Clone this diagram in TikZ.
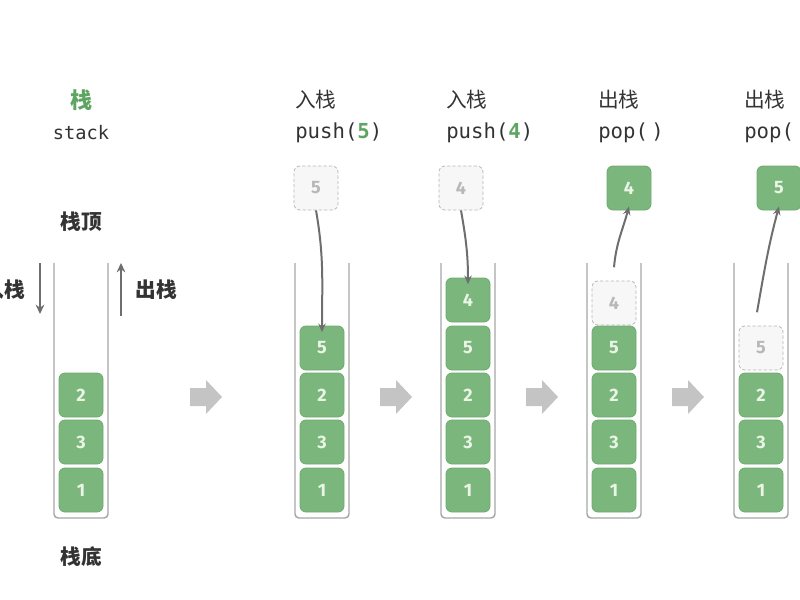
\documentclass[tikz,border=0pt]{standalone}
\usepackage{fontspec}
\newfontfamily\cjk{Noto Sans CJK SC}
\newfontfamily\digitfont{Fira Sans}
\setmonofont{DejaVu Sans Mono}
\usetikzlibrary{arrows.meta}
\definecolor{boxgreen}{HTML}{7BB77C}
\definecolor{boxedge}{HTML}{6DAA6E}
\definecolor{boxtext}{HTML}{EAF5E6}
\definecolor{ghostfill}{HTML}{F7F7F7}
\definecolor{ghostline}{HTML}{B8B8B8}
\definecolor{tubeline}{HTML}{A6A6A6}
\definecolor{arrowgray}{HTML}{6E6E6E}
\definecolor{blockgray}{HTML}{C4C4C4}
\definecolor{textdark}{HTML}{333333}
\definecolor{titlegreen}{HTML}{5EA562}
\begin{document}
\begin{tikzpicture}[x=0.75pt,y=-0.75pt,
  elem/.style={rectangle, rounded corners=4.5pt, minimum width=33pt, minimum height=33pt,
    fill=boxgreen, draw=boxedge, line width=0.6pt, text=boxtext, inner sep=0pt,
    font=\digitfont\bfseries\fontsize{13.5}{13.5}\selectfont},
  ghost/.style={elem, fill=ghostfill, draw=ghostline, dash pattern=on 2.5pt off 1.5pt, text=ghostline},
  tube/.style={draw=tubeline, line width=1.1pt, rounded corners=3pt},
  move/.style={draw=arrowgray, line width=1.5pt, -{Stealth[length=6.5pt,width=5.5pt]}},
  side/.style={draw=arrowgray, line width=1.8pt, -{Stealth[length=7pt,width=6.5pt]}},
  blockarrow/.style={fill=blockgray},
  cjkbold/.style={text=textdark, font=\cjk\bfseries\fontsize{15.5}{15.5}\selectfont},
  cjkhead/.style={text=textdark, font=\cjk\fontsize{15.5}{15.5}\selectfont, anchor=west, inner sep=0pt},
  monohead/.style={text=textdark, font=\ttfamily\fontsize{15.5}{15.5}\selectfont, anchor=west, inner sep=0pt}
  ]
\useasboundingbox (0,0) rectangle (800,600);
\clip (0,0) rectangle (800,600);

% tubes
\foreach \c/\n in {81/t1, 322/t2, 468/t3, 614/t4, 761/t5}{
  \draw[tube] (\c-27,263) -- (\c-27,518) -- (\c+27,518) -- (\c+27,263);
}

% title
\node[text=titlegreen, font=\cjk\bfseries\fontsize{16.5}{16.5}\selectfont] (title) at (81,100) {栈};
\node[text=textdark, font=\ttfamily\fontsize{14}{14}\selectfont] (stack) at (81,133) {stack};
\node[cjkbold] (top) at (81,222) {栈顶};
\node[cjkbold] (bottom) at (81,557) {栈底};
\node[cjkbold] (pushlbl) at (4,290) {入栈};
\node[cjkbold] (poplbl) at (156,290) {出栈};
\coordinate (pa) at (40,263); \coordinate (pb) at (40,314);
\coordinate (qa) at (121,316); \coordinate (qb) at (121,263);
\draw[side] (pa) -- (pb);
\draw[side] (qa) -- (qb);

% stack 1
\node[elem] (a2) at (81,395) {2};
\node[elem] (a3) at (81,442) {3};
\node[elem] (a1) at (81,490) {1};

% stack 2 : push(5)
\node[cjkhead] (h2a) at (295,100) {入栈};
\node[monohead] (h2b) at (295,133) {push(\textcolor{titlegreen}{\bfseries 5})};
\node[ghost] (g5) at (316,188) {5};
\node[elem] (b5) at (322,348) {5};
\node[elem] (b2) at (322,395) {2};
\node[elem] (b3) at (322,442) {3};
\node[elem] (b1) at (322,490) {1};
\draw[move] (g5.south) to[out=-80,in=90] ([yshift=-5]b5.north);

% stack 3 : push(4)
\node[cjkhead] (h3a) at (446,100) {入栈};
\node[monohead] (h3b) at (446,133) {push(\textcolor{titlegreen}{\bfseries 4})};
\node[ghost] (g4) at (461,188) {4};
\node[elem] (c4) at (468,300) {4};
\node[elem] (c5) at (468,348) {5};
\node[elem] (c2) at (468,395) {2};
\node[elem] (c3) at (468,442) {3};
\node[elem] (c1) at (468,490) {1};
\draw[move] (g4.south) to[out=-80,in=90] ([yshift=-5]c4.north);

% stack 4 : pop()
\node[cjkhead] (h4a) at (598,100) {出栈};
\node[monohead] (h4b) at (598,133) {pop(\,)};
\node[elem] (p4) at (629,188) {4};
\node[ghost] (d4) at (614,303) {4};
\node[elem] (d5) at (614,348) {5};
\node[elem] (d2) at (614,395) {2};
\node[elem] (d3) at (614,442) {3};
\node[elem] (d1) at (614,490) {1};
\draw[move] ([yshift=10]d4.north) to[out=85,in=-105] ([yshift=3]p4.south);

% stack 5 : pop()
\node[cjkhead] (h5a) at (744,100) {出栈};
\node[monohead] (h5b) at (744,133) {pop(\,)};
\node[elem] (p5) at (779,188) {5};
\node[ghost] (e5) at (761,348) {5};
\node[elem] (e2) at (761,395) {2};
\node[elem] (e3) at (761,442) {3};
\node[elem] (e1) at (761,490) {1};
\draw[move] ([yshift=10,xshift=-3]e5.north) to[out=80,in=-105] ([yshift=3]p5.south);

% block arrows between stages
\foreach \x in {190, 380, 526, 672}{
  \fill[blockarrow] (\x,388) -- (\x+16,388) -- (\x+16,380) -- (\x+32,397)
    -- (\x+16,414) -- (\x+16,406) -- (\x,406) -- cycle;
}
\end{tikzpicture}
\end{document}
